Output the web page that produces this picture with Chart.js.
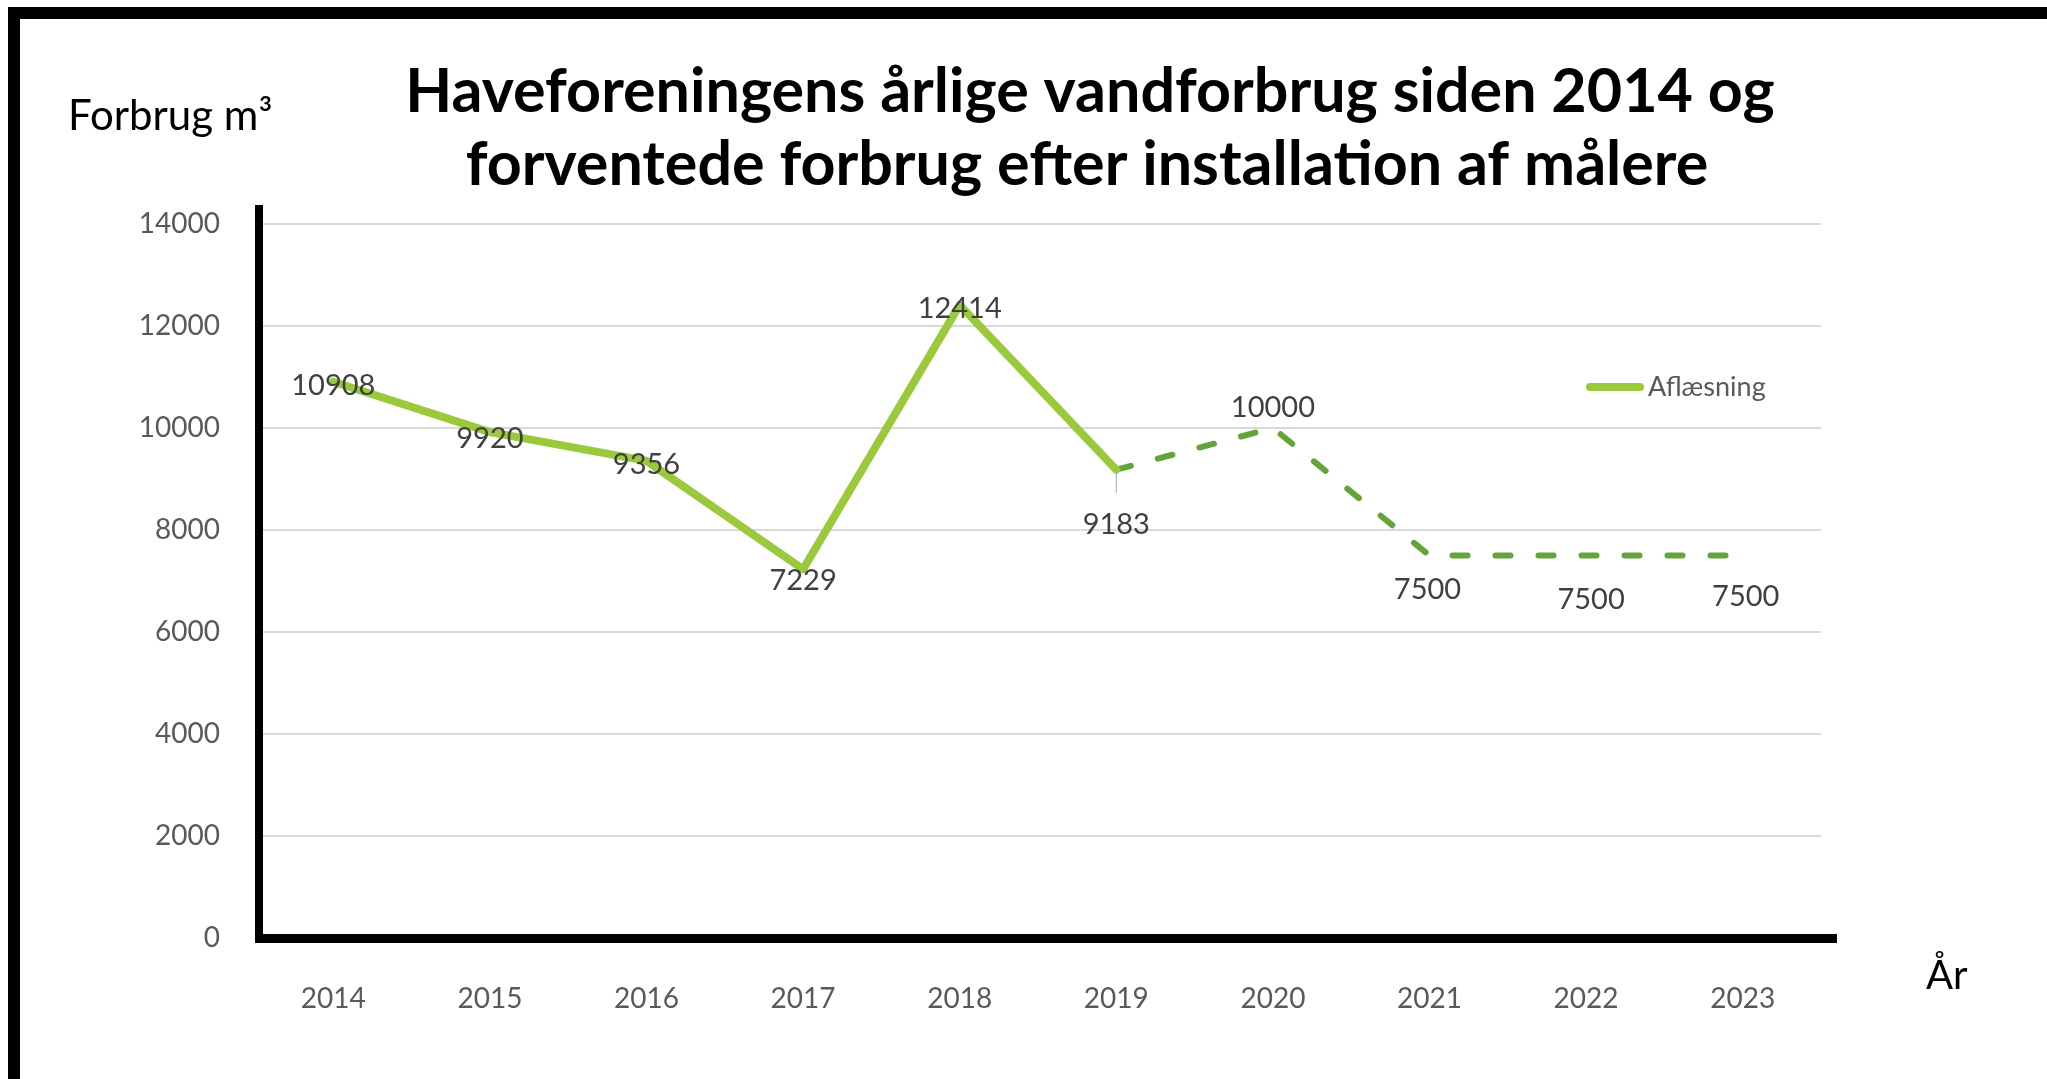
<!DOCTYPE html>
<html>
<head>
<meta charset="utf-8">
<script src="https://cdn.jsdelivr.net/npm/chart.js@4"></script>
<style>
  body { margin: 0; background: #fff; }
  #wrap { position: relative; width: 2047px; height: 1079px; }
</style>
</head>
<body>
<div id="wrap"><canvas id="myChart"></canvas></div>
<script>
const years = ["2014", "2015", "2016", "2017", "2018", "2019", "2020", "2021", "2022", "2023"];
const aflaesning = [10908, 9920, 9356, 7229, 12414, 9183, null, null, null, null];
const forventet = [null, null, null, null, null, 9183, 10000, 7500, 7500, 7500];
const yTicks = [0, 2000, 4000, 6000, 8000, 10000, 12000, 14000];

const titleLines = ["Haveforeningens årlige vandforbrug siden 2014 og", "forventede forbrug efter installation af målere"];
const yTitle = "Forbrug m³";
const xTitle = "År";

// where Excel had the data labels dragged to (offset from the point)
const labelDx = [0, 0, 0, 0, 0, 0, 0, -2, 5, 3];
const labelDy = [4, 7, 4, 11, 4, 55, -20, 34, 44, 41];

const solidGreen = "#9ACA3C";
const dashGreen = "#63A53B";
const FONT = "Lato, 'Open Sans', sans-serif";

const decor = {
  id: "decor",
  beforeDraw(chart) {
    const ctx = chart.ctx;
    ctx.save();
    ctx.fillStyle = "#fff";
    ctx.fillRect(0, 0, chart.width, chart.height);
    // outer frame
    ctx.strokeStyle = "#000";
    ctx.lineWidth = 12;
    ctx.strokeRect(14, 13, chart.width + 40, chart.height + 40);
    ctx.restore();
  },
  afterDraw(chart) {
    const ctx = chart.ctx;
    const area = chart.chartArea;
    ctx.save();

    // axis lines
    ctx.strokeStyle = "#000";
    ctx.lineWidth = 8;
    ctx.beginPath();
    ctx.moveTo(area.left + 4, area.top - 19);
    ctx.lineTo(area.left + 4, area.bottom);
    ctx.stroke();
    ctx.lineWidth = 9;
    ctx.beginPath();
    ctx.moveTo(area.left, area.bottom + 0.5);
    ctx.lineTo(area.right + 16, area.bottom + 0.5);
    ctx.stroke();

    // title
    ctx.fillStyle = "#000";
    ctx.textAlign = "center";
    ctx.textBaseline = "alphabetic";
    ctx.font = "bold 61px " + FONT;
    ctx.fillText(titleLines[0], 1090, 112);
    ctx.fillText(titleLines[1], 1087, 185);

    // axis titles
    ctx.textAlign = "left";
    ctx.font = "42px " + FONT;
    ctx.fillText(yTitle, 68, 130);
    ctx.font = "40px " + FONT;
    ctx.fillText(xTitle, 1926, 989);

    // legend
    const ds = chart.data.datasets[0];
    ctx.strokeStyle = ds.borderColor;
    ctx.lineWidth = 8;
    ctx.lineCap = "round";
    ctx.beginPath();
    ctx.moveTo(1590, 387);
    ctx.lineTo(1640, 387);
    ctx.stroke();
    ctx.fillStyle = "#595959";
    ctx.font = "27px " + FONT;
    ctx.textBaseline = "middle";
    ctx.fillText(ds.label, 1648, 387);

    // data labels
    ctx.fillStyle = "#404040";
    ctx.font = "29px " + FONT;
    ctx.textAlign = "center";
    const done = new Set();
    chart.data.datasets.forEach((d, di) => {
      const meta = chart.getDatasetMeta(di);
      d.data.forEach((v, i) => {
        if (v === null || done.has(i)) return;
        done.add(i);
        const pt = meta.data[i];
        const x = pt.x + labelDx[i];
        const y = pt.y + labelDy[i];
        if (i === 5) {
          // leader line to the moved label
          ctx.strokeStyle = "#a6a6a6";
          ctx.lineWidth = 1;
          ctx.lineCap = "butt";
          ctx.beginPath();
          ctx.moveTo(pt.x, pt.y);
          ctx.lineTo(pt.x, y - 32);
          ctx.stroke();
        }
        ctx.fillText(String(v), x, y);
      });
    });
    ctx.restore();
  }
};

const chart = new Chart("myChart", {
  type: "line",
  data: {
    labels: years,
    datasets: [
      {
        label: "Aflæsning",
        data: aflaesning,
        borderColor: solidGreen,
        borderWidth: 8,
        borderJoinStyle: "round",
        borderCapStyle: "round",
        pointRadius: 0,
        tension: 0,
        spanGaps: false
      },
      {
        label: "Forventet",
        data: forventet,
        borderColor: dashGreen,
        borderWidth: 6,
        borderDash: [15, 28],
        borderCapStyle: "round",
        borderJoinStyle: "round",
        pointRadius: 0,
        tension: 0
      }
    ]
  },
  options: {
    responsive: true,
    maintainAspectRatio: false,
    animation: false,
    layout: { padding: { top: 224, right: 226, bottom: 0, left: 0 } },
    plugins: {
      legend: { display: false },
      title: { display: false },
      tooltip: { enabled: false }
    },
    scales: {
      x: {
        offset: true,
        grid: { display: false, drawTicks: false },
        border: { display: false },
        ticks: { color: "#595959", font: { family: FONT, size: 28 }, padding: 44 },
        afterFit: s => { s.height = 141; }
      },
      y: {
        min: 0,
        max: 14000,
        afterBuildTicks: s => { s.ticks = yTicks.map(v => ({ value: v })); },
        grid: { color: "#d9d9d9", lineWidth: 2, drawTicks: false },
        border: { display: false },
        ticks: {
          color: "#595959",
          font: { family: FONT, size: 28 },
          padding: 35,
          callback: v => String(v)
        },
        afterFit: s => { s.width = 255; }
      }
    }
  },
  plugins: [decor]
});
</script>
</body>
</html>
